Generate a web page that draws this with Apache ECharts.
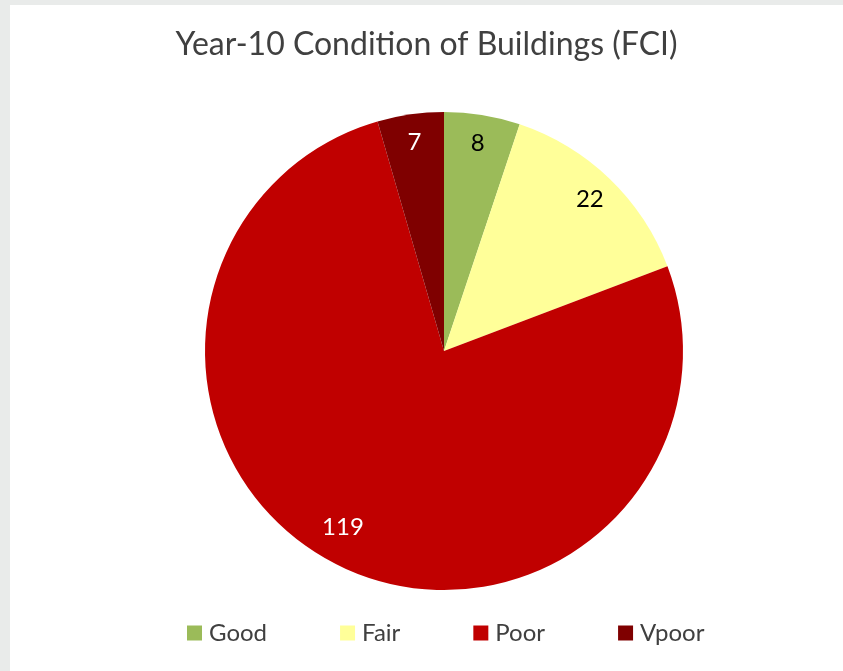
<!DOCTYPE html>
<html>
<head>
<meta charset="utf-8">
<script src="https://cdn.jsdelivr.net/npm/echarts@6/dist/echarts.min.js"></script>
<style>
    html, body { margin: 0; padding: 0; background: #e9ebea; }
    #main { position: absolute; left: 10px; top: 5px; width: 833px; height: 666px; background: #ffffff; }
</style>
</head>
<body>
<div id="main"></div>
<script>
    // chart data
    const categories = ['Good', 'Fair', 'Poor', 'Vpoor'];
    const counts = [8, 22, 119, 7];
    const colors = ['#9bbb59', '#ffff99', '#c00000', '#7f0000'];
    const labelColors = ['#000000', '#000000', '#ffffff', '#ffffff'];

    const pieData = categories.map(function (name, i) {
        return { name: name, value: counts[i], itemStyle: { color: colors[i] } };
    });

    // label ring: same slices, transparent, labels sit near the outer edge
    const labelData = categories.map(function (name, i) {
        return {
            name: name,
            value: counts[i],
            itemStyle: { color: 'rgba(0,0,0,0)' },
            label: { color: labelColors[i] }
        };
    });

    const chart = echarts.init(document.getElementById('main'));
    chart.setOption({
        animation: false,
        title: {
            text: 'Year-10 Condition of Buildings (FCI)',
            left: 'center',
            top: 19,
            textStyle: { fontFamily: 'Lato', fontSize: 32, fontWeight: 'normal', color: '#404040' }
        },
        legend: {
            data: categories,
            left: 172,
            top: 611,
            itemWidth: 15,
            itemHeight: 15,
            itemGap: 73,
            icon: 'rect',
            textStyle: { fontFamily: 'Lato', fontSize: 24, color: '#404040', padding: [0, 0, 0, 2] }
        },
        series: [
            {
                type: 'pie',
                center: [434, 346],
                radius: 239,
                startAngle: 90,
                clockwise: true,
                label: { show: false },
                labelLine: { show: false },
                itemStyle: { borderWidth: 0 },
                data: pieData
            },
            {
                type: 'pie',
                silent: true,
                center: [434, 346],
                radius: [176, 239],
                startAngle: 90,
                clockwise: true,
                legendHoverLink: false,
                label: {
                    show: true,
                    position: 'inside',
                    formatter: '{c}',
                    fontFamily: 'Lato',
                    fontSize: 24
                },
                labelLine: { show: false },
                // the big slice label sits a bit higher in the original
                labelLayout: function (params) {
                    if (params.dataIndex === 2) {
                        return { dx: -7, dy: -12 };
                    }
                },
                data: labelData
            }
        ]
    });
</script>
</body>
</html>
